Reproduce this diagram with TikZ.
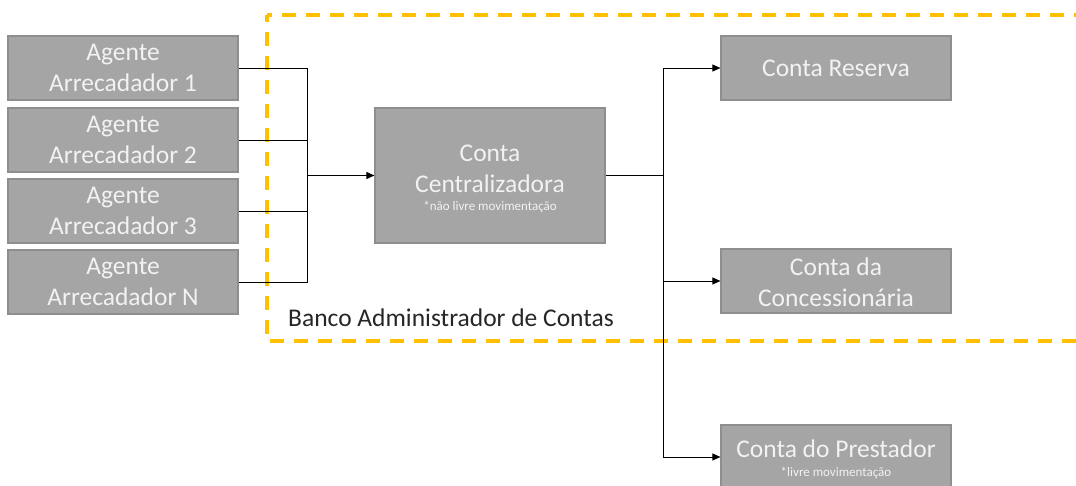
\documentclass[tikz,border=0pt]{standalone}
\usepackage{fontspec}
\setmainfont{Carlito}
\usetikzlibrary{arrows.meta}
\definecolor{boxfill}{HTML}{A5A5A5}
\definecolor{boxline}{HTML}{8E8E8E}
\definecolor{boxtext}{HTML}{F2F2F2}
\definecolor{gold}{HTML}{FFC000}
\definecolor{labeltext}{HTML}{262626}
\tikzset{
  acct/.style={draw=boxline, line width=1.2pt, fill=boxfill, text=boxtext,
    minimum width=230pt, align=center, inner sep=0pt,
    font=\fontsize{25.5}{31}\selectfont},
  accttext/.style={text=boxtext, align=center, inner sep=0pt,
    font=\fontsize{25.5}{31}\selectfont},
  conn/.style={draw=black, line width=0.9pt},
  arr/.style={conn, -{Triangle[length=8pt,width=7pt]}},
  frame/.style={draw=gold, line width=3.5pt, dash pattern=on 14pt off 10pt},
}
\newcommand{\smalltxt}[1]{{\fontsize{13}{15}\selectfont #1}}
\begin{document}
\begin{tikzpicture}[x=1pt,y=-1pt]
\useasboundingbox (0,0) rectangle (1076,485);
% frame
\draw[frame, dash phase=9pt] (267,15) -- (1090,15);
\draw[frame, dash phase=7pt] (267,15) -- (267,341) -- (1090,341);
% agents
\node[acct, minimum height=64pt] (a1) at (123,68) {Agente\\Arrecadador 1};
\node[acct, minimum height=64pt] (a2) at (123,140) {Agente\\Arrecadador 2};
\node[acct, minimum height=64pt] (a3) at (123,211) {Agente\\Arrecadador 3};
\node[acct, minimum height=64pt] (a4) at (123,282) {Agente\\Arrecadador N};
% central
\node[acct, minimum height=135pt] (cc) at (490,175.5) {};
\node[accttext] (cctext) at ([yshift=-3pt]cc.center) {Conta\\Centralizadora\\[-13pt]\smalltxt{*não livre movimentação}};
% right
\node[acct, minimum height=64pt] (cr) at (836,68) {Conta Reserva};
\node[acct, minimum height=64pt] (cd) at (836,281) {};
\node[accttext] (cdtext) at ([yshift=-1.3pt]cd.center) {Conta da\\Concessionária};
\node[acct, minimum height=64pt] (cp) at (836,457) {};
\node[accttext] (cptext) at ([yshift=-2.5pt]cp.center) {Conta do Prestador\\[-12pt]\smalltxt{*livre movimentação}};
% label
\node[anchor=base west, inner sep=0pt, text=labeltext, font=\fontsize{25.5}{31}\selectfont] (lbl) at (288,326) {Banco Administrador de Contas};
% connectors
\coordinate (j) at (307,175.5);
\coordinate (k) at (663,175.5);
\draw[conn] (a1.east) -| (j);
\draw[conn] (a2.east) -| (j);
\draw[conn] (a3.east) -| (j);
\draw[conn] (a4.east) -| (j);
\draw[arr] (j) -- (cc.west);
\draw[conn] (cc.east) -- (k);
\draw[arr] (k) |- (cr.west);
\draw[arr] (k) |- (cd.west);
\draw[arr] (k) |- (cp.west);
\end{tikzpicture}
\end{document}
